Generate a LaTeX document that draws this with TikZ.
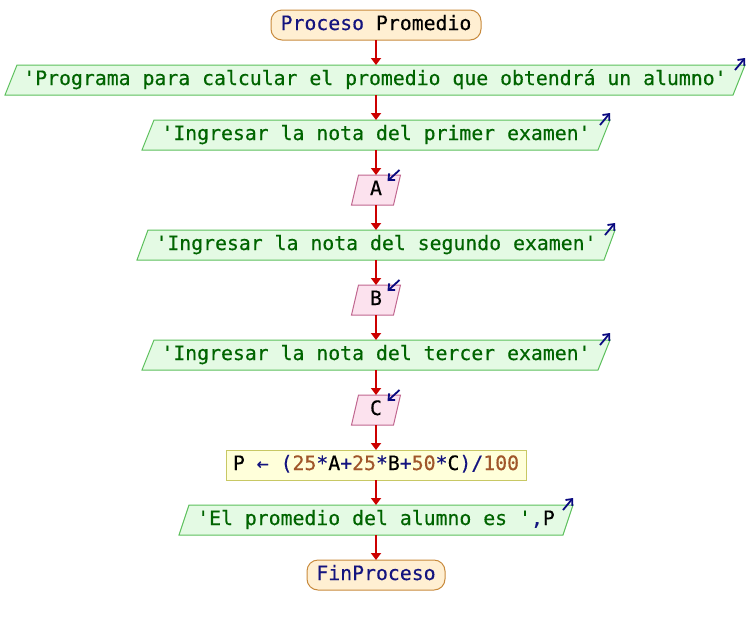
\documentclass[tikz,border=0pt]{standalone}
\usepackage{fontspec}
\setmonofont{DejaVu Sans Mono}[FakeBold=0.4]
\usetikzlibrary{arrows.meta,calc,backgrounds}
\definecolor{kw}{HTML}{14147F}
\definecolor{strc}{HTML}{006400}
\definecolor{numc}{HTML}{A0562A}
\definecolor{termfill}{HTML}{FFEFD2}
\definecolor{termdraw}{HTML}{C88A3C}
\definecolor{outfill}{HTML}{E4FAE4}
\definecolor{outdraw}{HTML}{5CC05C}
\definecolor{infill}{HTML}{FCE2EE}
\definecolor{indraw}{HTML}{C0668F}
\definecolor{asfill}{HTML}{FFFFDA}
\definecolor{asdraw}{HTML}{C8C864}
\definecolor{arrc}{HTML}{CC0000}
\definecolor{iconc}{HTML}{0A0A80}
\newcommand\mypara[3]{%
  \path[#3] ([xshift=#2pt]#1.north west) -- ([xshift=#2pt]#1.north east) --
    ([xshift=-#2pt]#1.south east) -- ([xshift=-#2pt]#1.south west) -- cycle;}
\newcommand\outicon[2]{\draw[icon] ($(#1.north east)+(#2-10,5)$) -- ($(#1.north east)+(#2,-7)$);}
\newcommand\inicon[2]{\draw[icon] ($(#1.north east)+(#2-1,-5)$) -- ($(#1.north east)+(#2-13,6)$);}
\begin{document}
\begin{tikzpicture}[x=1pt,y=-1pt,
  font=\ttfamily\fontsize{19.8}{22}\selectfont,
  txt/.style={inner sep=0pt, outer sep=0pt, minimum height=30pt,
    text height=15pt, text depth=5pt, anchor=center},
  term/.style={txt, draw=termdraw, fill=termfill, rounded corners=11pt, line width=1pt},
  outtxt/.style={txt, text=strc},
  intxt/.style={txt},
  outshape/.style={draw=outdraw, fill=outfill, line width=1pt},
  inshape/.style={draw=indraw, fill=infill, line width=1pt},
  assign/.style={txt, draw=asdraw, fill=asfill, line width=1pt},
  conn/.style={draw=arrc, line width=1.8pt, -{Triangle[width=10pt,length=7pt]}},
  icon/.style={draw=iconc, line width=1.8pt, -{Straight Barb[length=5pt,width=9pt,line width=1.8pt]}}
]
\useasboundingbox (0,0) rectangle (752,625);

\node[term, minimum width=210pt] (t1) at (376,25) {\textcolor{kw}{Proceso} Promedio};
\node[outtxt, minimum width=728pt] (o1) at (375,80) {'Programa para calcular el promedio que obtendrá un alumno'};
\node[outtxt, minimum width=456pt] (o2) at (376,135) {'Ingresar la nota del primer examen'};
\node[intxt, minimum width=42pt] (i1) at (376,190) {A};
\node[outtxt, minimum width=467pt] (o3) at (376,245) {'Ingresar la nota del segundo examen'};
\node[intxt, minimum width=42pt] (i2) at (376,300) {B};
\node[outtxt, minimum width=456pt] (o4) at (376,355) {'Ingresar la nota del tercer examen'};
\node[intxt, minimum width=42pt] (i3) at (376,410) {C};
\node[assign, minimum width=300pt] (a1) at (376,465) {P \textcolor{kw}{← (}\textcolor{numc}{25}\textcolor{kw}{*}A\textcolor{kw}{+}\textcolor{numc}{25}\textcolor{kw}{*}B\textcolor{kw}{+}\textcolor{numc}{50}\textcolor{kw}{*}C\textcolor{kw}{)/}\textcolor{numc}{100}};
\node[outtxt, minimum width=384pt] (o5) at (376,520) {'El promedio del alumno es '\textcolor{kw}{,}\textcolor{black}{P}};
\node[term, minimum width=138pt] (t2) at (376,575) {\textcolor{kw}{FinProceso}};

\begin{pgfonlayer}{background}
  \mypara{o1}{6}{outshape}
  \mypara{o2}{6}{outshape}
  \mypara{o3}{5.5}{outshape}
  \mypara{o4}{6}{outshape}
  \mypara{o5}{5}{outshape}
  \mypara{i1}{3.5}{inshape}
  \mypara{i2}{3.5}{inshape}
  \mypara{i3}{3.5}{inshape}
\end{pgfonlayer}

\outicon{o1}{6}
\outicon{o2}{6}
\outicon{o3}{5.5}
\outicon{o4}{6}
\outicon{o5}{5}
\inicon{i1}{3.5}
\inicon{i2}{3.5}
\inicon{i3}{3.5}

\draw[conn] (t1.south) -- (t1.south |- o1.north);
\draw[conn] (t1.south |- o1.south) -- (o2.north);
\draw[conn] (o2.south) -- (i1.north);
\draw[conn] (i1.south) -- (o3.north);
\draw[conn] (o3.south) -- (i2.north);
\draw[conn] (i2.south) -- (o4.north);
\draw[conn] (o4.south) -- (i3.north);
\draw[conn] (i3.south) -- (a1.north);
\draw[conn] (a1.south) -- (o5.north);
\draw[conn] (o5.south) -- (t2.north);
\end{tikzpicture}
\end{document}
